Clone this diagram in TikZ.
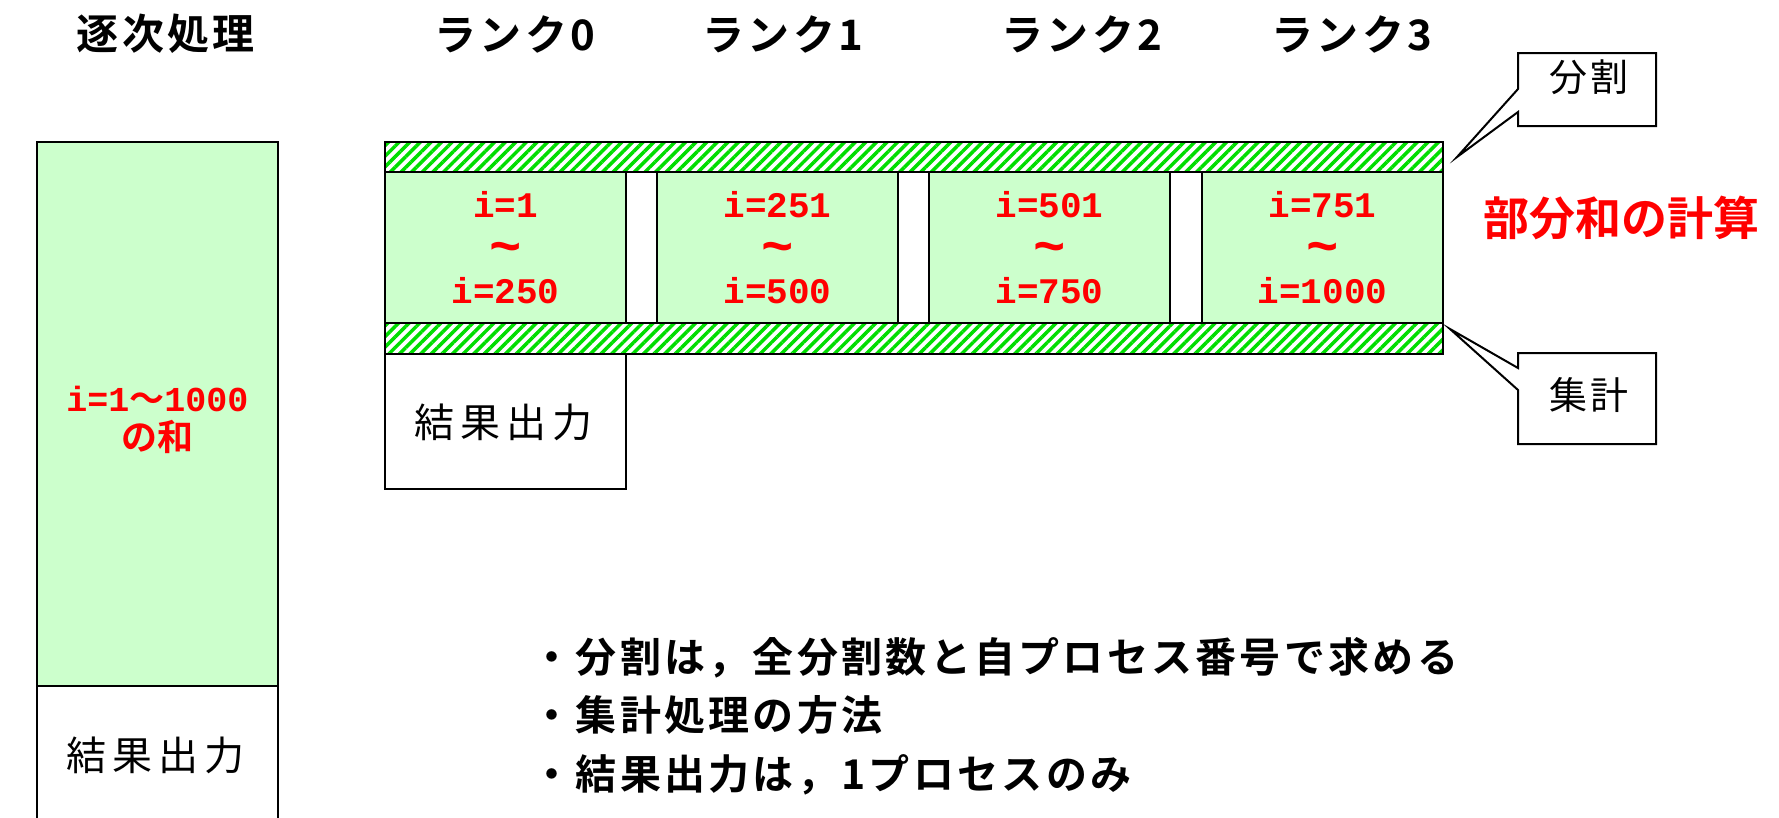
\documentclass[tikz,border=0pt]{standalone}
\usepackage{fontspec}
\usetikzlibrary{patterns.meta}
\newfontfamily\jp{Noto Sans CJK JP}[BoldFont={Noto Sans CJK JP Bold}]
\newfontfamily\jpw{Noto Sans CJK JP}[BoldFont={Noto Sans CJK JP Bold},LetterSpace=8]
\newfontfamily\jpww{Noto Sans CJK JP}[BoldFont={Noto Sans CJK JP Bold},LetterSpace=15]
\newfontfamily\mono{Liberation Mono}[BoldFont={Liberation Mono Bold}]
\definecolor{cellgreen}{HTML}{CCFFCC}
\definecolor{hatchgreen}{HTML}{00DD00}
\definecolor{txtred}{HTML}{FF0000}
\newcommand{\fs}[1]{\fontsize{#1}{1.2\dimexpr#1pt\relax}\selectfont}
\newcommand{\tld}{{\fontsize{54}{43}\selectfont\raisebox{-4pt}{\char`\~}}}
\begin{document}
\begin{tikzpicture}[x=1pt,y=-1pt,
  box/.style={draw=black,line width=2pt,inner sep=0pt,minimum width=241pt},
  cellbox/.style={box,fill=cellgreen,minimum height=151pt,align=center,
     text=txtred,font=\mono\bfseries\fontsize{36}{43}\selectfont},
  hatch/.style={draw=black,line width=2pt,pattern={Lines[angle=45,distance=7.5pt,line width=3.5pt]},pattern color=hatchgreen},
  title/.style={font=\jpw\bfseries\fs{42}},
  plain/.style={font=\jpww\fs{40}},
  callout/.style={draw=black,line width=2pt,fill=white},
  bullet/.style={font=\jpw\bfseries\fs{41},anchor=west}
]
\useasboundingbox (0,0) rectangle (1779,817);
\fill[white] (0,0) rectangle (1779,817);

% titles
\node[title] (t0) at (166,34) {逐次処理};
\node[title] (r0) at (515,34) {ランク0};
\node[title] (r1) at (783,34) {ランク1};
\node[title] (r2) at (1082,34) {ランク2};
\node[title] (r3) at (1352,34) {ランク3};

% sequential column
\node[box,fill=cellgreen,minimum height=544pt] (seq) at (157.5,414) {};
\node[text=txtred,font=\mono\bfseries\fontsize{35}{40}\selectfont] (seqa) at (157.5,399) {i=1{\jp\bfseries ～}1000};
\node[text=txtred,font=\jp\bfseries\fs{36}] (seqb) at (157.5,437) {の和};
\node[box,minimum height=150pt] (seqout) at (157.5,761) {};
\node[plain] (seqoutt) at (155,755) {結果出力};

% cells
\node[cellbox] (c0) at (505.5,247.5) {i=1\\\tld\\i=250};
\node[cellbox] (c1) at (777.5,247.5) {i=251\\\tld\\i=500};
\node[cellbox] (c2) at (1049.5,247.5) {i=501\\\tld\\i=750};
\node[cellbox] (c3) at (1322.5,247.5) {i=751\\\tld\\i=1000};

% hatched bars
\path[hatch] (385,142) rectangle (1443,172);
\path[hatch] (385,323) rectangle (1443,354);
\coordinate (divtip) at (1457,157);
\coordinate (aggtip) at (1450,329);

% output box rank 0
\node[box,minimum height=135pt] (out0) at (505.5,421.5) {};
\node[plain] (out0t) at (503,422) {結果出力};

% callouts
\path[callout] (1518,53) -- (1656,53) -- (1656,126) -- (1518,126) -- (1518,112) -- (divtip) -- (1518,89) -- cycle;
\node[font=\jpw\fs{38}] (divt) at (1589,77) {分割};
\path[callout] (1518,353) -- (1656,353) -- (1656,444) -- (1518,444) -- (1518,390) -- (aggtip) -- (1518,368) -- cycle;
\node[font=\jpw\fs{38}] (aggt) at (1589,395) {集計};

% partial sum label
\node[font=\jp\bfseries\fs{46},text=txtred] (psum) at (1621,218) {部分和の計算};

% bullets
\node[bullet] (b1) at (528,658) {・分割は，全分割数と自プロセス番号で求める};
\node[bullet] (b2) at (528,715) {・集計処理の方法};
\node[bullet] (b3) at (528,775) {・結果出力は，1プロセスのみ};
\end{tikzpicture}
\end{document}
